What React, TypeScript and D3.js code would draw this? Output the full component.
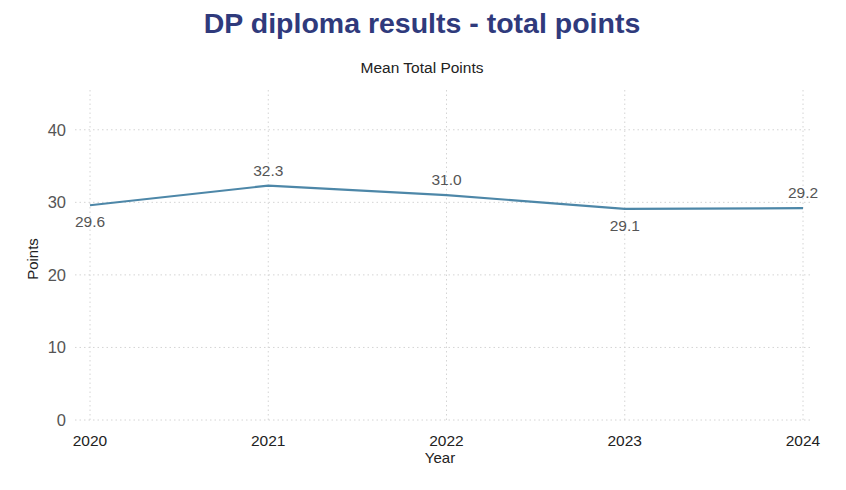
import React from "react";
import * as d3 from "d3";

const years = ["2020", "2021", "2022", "2023", "2024"];
const meanPoints = [29.6, 32.3, 31.0, 29.1, 29.2];
const labelAbove = [false, true, true, false, true];
const yTicks = [0, 10, 20, 30, 40];

const W = 846;
const H = 490;

export default function App() {
  const x = d3.scalePoint().domain(years).range([90, 803]);
  const y = d3.scaleLinear().domain([0, 45]).range([420, 93.5]);
  const line = d3
    .line<number>()
    .x((_, i) => x(years[i]) as number)
    .y((d) => y(d));
  const font = "Liberation Sans, Arial, Helvetica, sans-serif";
  return (
    <svg width={W} height={H} style={{ position: "absolute", left: 0, top: 0 }} fontFamily={font}>
      <rect width={W} height={H} fill="#fff" />
      <text x={422} y={33} textAnchor="middle" fontSize={28.5} fontWeight="bold" fill="#2f3a7c">
        DP diploma results - total points
      </text>
      <text x={422} y={73} textAnchor="middle" fontSize={15.5} fill="#222">
        Mean Total Points
      </text>
      {yTicks.map((t) => (
        <g key={t}>
          <line x1={75} x2={812} y1={y(t)} y2={y(t)} stroke="#d4d4d4" strokeWidth={1} strokeDasharray="1.5,3" />
          <text x={66} y={y(t)} dy="0.35em" textAnchor="end" fontSize={16.5} fill="#555">
            {t}
          </text>
        </g>
      ))}
      {years.map((yr) => (
        <g key={yr}>
          <line x1={x(yr)} x2={x(yr)} y1={90} y2={420} stroke="#d4d4d4" strokeWidth={1} strokeDasharray="1.5,3" />
          <text x={x(yr)} y={441} dy="0.35em" textAnchor="middle" fontSize={15.5} fill="#222">
            {yr}
          </text>
        </g>
      ))}
      <text x={440} y={458} dy="0.35em" textAnchor="middle" fontSize={15} fill="#222">
        Year
      </text>
      <text transform={`translate(33,${259}) rotate(-90)`} textAnchor="middle" dy="0.35em" fontSize={15} fill="#222">
        Points
      </text>
      <path d={line(meanPoints) || ""} fill="none" stroke="#4d87a8" strokeWidth={2.2} />
      {meanPoints.map((v, i) => (
        <text
          key={i}
          x={x(years[i])}
          y={labelAbove[i] ? y(v) - 15.5 : y(v) + 16.5}
          dy="0.35em"
          textAnchor="middle"
          fontSize={15.5}
          fill="#555"
        >
          {v.toFixed(1)}
        </text>
      ))}
    </svg>
  );
}
